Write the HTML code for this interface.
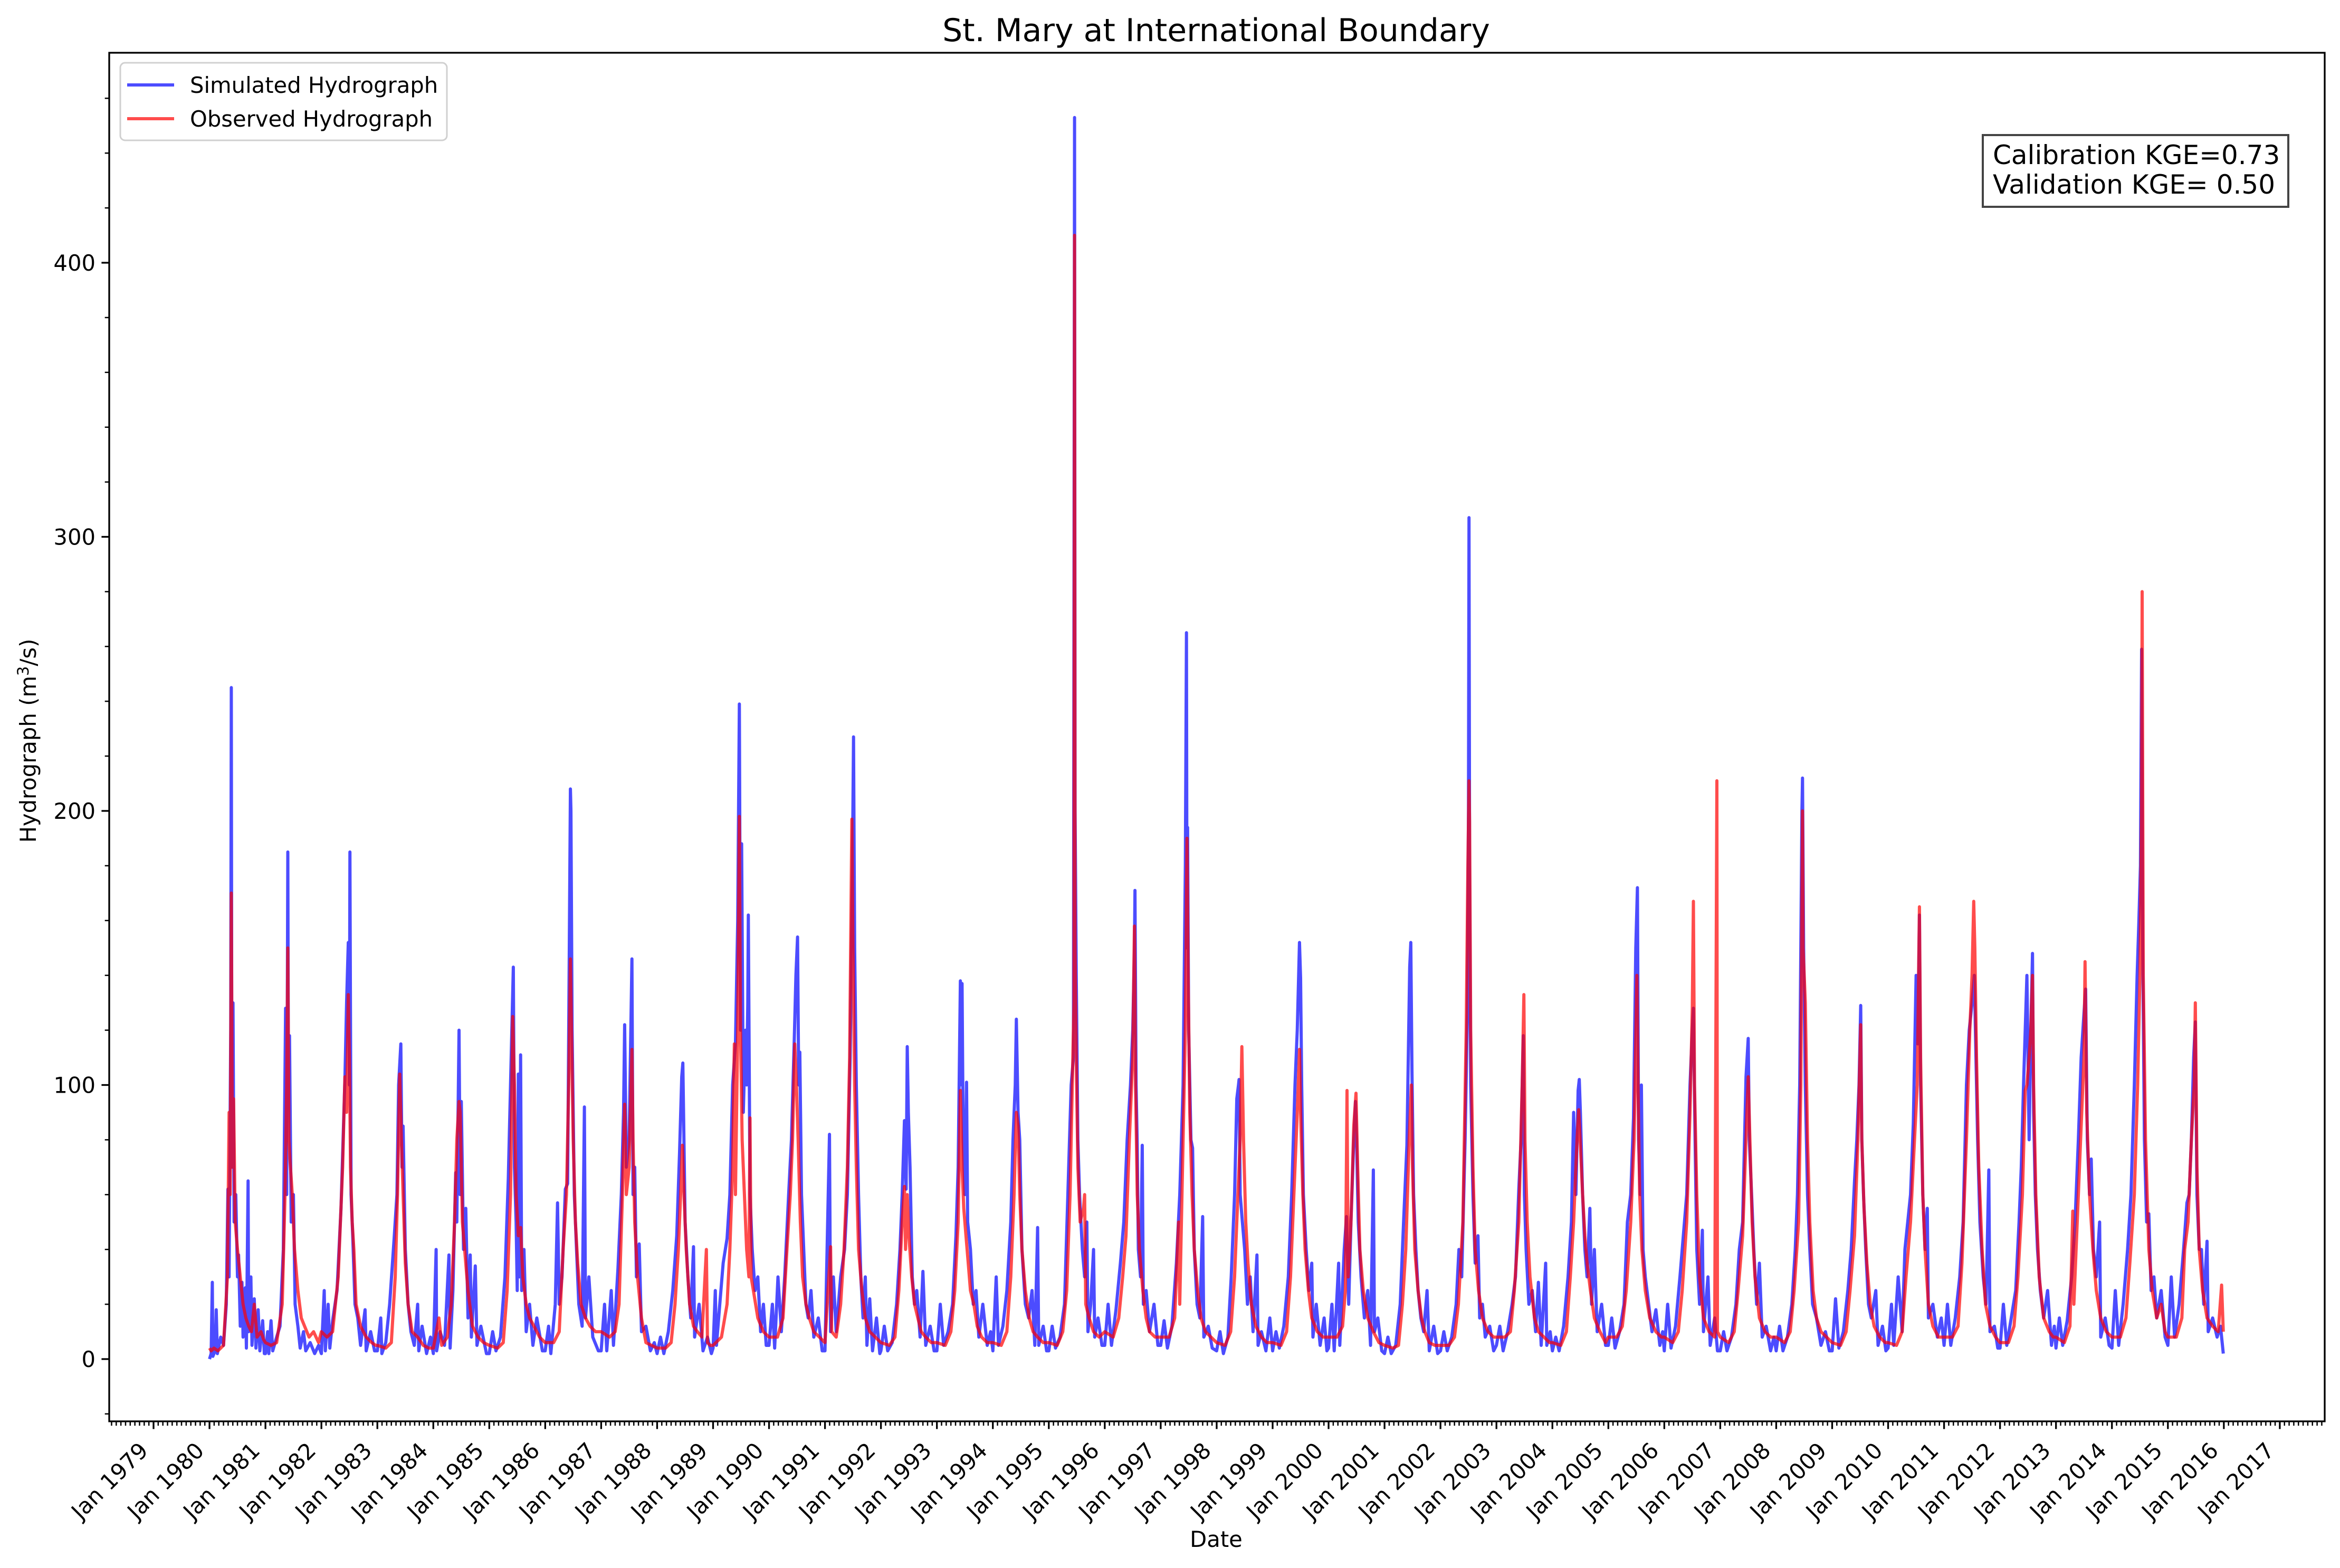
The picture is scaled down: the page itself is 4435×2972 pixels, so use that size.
<!DOCTYPE html>
<html><head><meta charset="utf-8"><style>
html,body{margin:0;padding:0;background:#fff}
svg{display:block}
text{font-family:"DejaVu Sans","Liberation Sans",sans-serif;fill:#000}
</style></head><body>
<svg id="chart" width="4435" height="2972" viewBox="0 0 4435 2972" xmlns="http://www.w3.org/2000/svg">
<rect x="0" y="0" width="4435" height="2972" fill="#fff"/>
<g id="plot"></g>
<g id="axes"></g>
<text x="2305" y="78" font-size="60" text-anchor="middle">St. Mary at International Boundary</text>
<text x="2305" y="2932" font-size="41.7" text-anchor="middle">Date</text>
<text transform="translate(68,1404) rotate(-90)" font-size="41.7" text-anchor="middle">Hydrograph (m<tspan font-size="29" dy="-14">3</tspan><tspan dy="14">/s)</tspan></text>
<g>
<rect x="228" y="119" width="619" height="147" rx="9" fill="#fff" fill-opacity="0.8" stroke="#d0d0d0" stroke-width="3"/>
<line x1="241" y1="161" x2="330" y2="161" stroke="#0000ff" stroke-opacity="0.7" stroke-width="6"/>
<text x="360" y="176" font-size="41.7">Simulated Hydrograph</text>
<line x1="241" y1="225" x2="330" y2="225" stroke="#ff0000" stroke-opacity="0.7" stroke-width="6"/>
<text x="360" y="240" font-size="41.7">Observed Hydrograph</text>
</g>
<g>
<rect x="3758" y="256" width="579" height="136" fill="#fff" stroke="#444" stroke-width="4"/>
<text x="3777" y="311" font-size="50">Calibration KGE=0.73</text>
<text x="3777" y="367" font-size="50">Validation KGE= 0.50</text>
</g>
</svg>
<script>
// ---- data (decimal-year offset : discharge m3/s) ----
const years = [1980,1981,1982,1983,1984,1985,1986,1987,1988,1989,1990,1991,1992,1993,1994,1995,1996,1997,1998,1999,2000,2001,2002,2003,2004,2005,2006,2007,2008,2009,2010,2011,2012,2013,2014,2015];
const simulatedSeries = [
".0:0 .03:2 .05:28 .06:1 .1:3 .12:18 .14:2 .2:8 .25:5 .3:20 .33:62 .35:30 .38:120 .39:245 .4:70 .42:130 .44:50 .47:60 .5:30 .52:38 .55:12 .58:28 .6:8 .64:26 .66:4 .69:65 .7:10 .74:30 .76:5 .8:22 .83:4 .87:18 .9:3 .95:14 .98:2",
".0:2 .04:10 .06:2 .1:14 .13:3 .2:8 .26:12 .32:40 .36:128 .38:60 .4:185 .41:100 .43:118 .46:50 .5:60 .53:20 .58:12 .62:4 .68:10 .72:3 .8:6 .88:2 .95:5",
".0:2 .05:25 .07:3 .12:20 .15:4 .2:14 .28:25 .35:55 .42:102 .45:130 .48:152 .5:100 .51:185 .53:60 .56:45 .6:20 .65:15 .7:5 .78:18 .8:3 .88:10 .95:3",
".0:3 .06:15 .08:2 .15:6 .22:20 .3:44 .35:60 .38:100 .42:115 .44:70 .46:85 .5:40 .55:20 .6:10 .66:5 .72:20 .74:3 .8:12 .88:2 .95:8",
".0:2 .05:40 .06:3 .12:10 .2:5 .28:38 .3:4 .35:25 .4:68 .42:50 .46:120 .48:60 .5:94 .54:40 .58:55 .62:15 .66:38 .68:8 .75:34 .78:5 .85:12 .95:2",
".0:2 .06:10 .12:3 .2:8 .28:30 .34:66 .38:100 .43:143 .45:70 .48:50 .5:25 .52:104 .54:30 .56:111 .58:25 .62:40 .66:10 .72:20 .78:5 .85:15 .95:3",
".0:3 .06:12 .1:2 .18:20 .22:57 .25:20 .3:30 .36:62 .4:64 .43:150 .45:208 .46:200 .48:120 .52:60 .56:40 .6:20 .66:12 .7:92 .72:15 .78:30 .85:8 .95:3",
".0:3 .06:20 .1:3 .18:25 .22:5 .3:33 .36:60 .4:90 .42:122 .45:70 .5:80 .55:146 .57:60 .6:70 .63:30 .68:42 .72:10 .8:12 .88:3 .95:6",
".0:2 .06:8 .12:2 .2:10 .28:25 .35:45 .4:75 .44:103 .46:108 .5:50 .55:30 .6:15 .65:41 .67:8 .75:20 .82:3 .9:8 .97:2",
".0:4 .04:25 .06:5 .12:20 .18:35 .25:44 .3:60 .35:100 .4:115 .44:160 .47:239 .49:120 .51:188 .54:90 .58:120 .6:100 .62:130 .63:162 .66:60 .7:40 .75:25 .8:30 .85:10 .9:20 .95:5",
".0:5 .06:20 .1:4 .16:30 .22:10 .28:30 .35:60 .4:80 .45:116 .48:140 .51:154 .53:100 .55:112 .58:60 .62:40 .66:20 .7:15 .75:25 .8:8 .88:15 .95:3",
".0:3 .08:82 .1:10 .15:30 .2:10 .28:30 .35:40 .4:60 .45:110 .49:180 .51:227 .53:150 .56:100 .6:60 .64:30 .68:15 .72:30 .75:5 .8:22 .85:3 .92:15 .98:2",
".0:3 .06:12 .12:3 .2:6 .28:20 .34:40 .38:60 .42:87 .45:62 .47:114 .49:90 .52:70 .56:30 .6:20 .64:25 .7:8 .75:32 .8:5 .88:12 .95:3",
".0:3 .06:20 .12:5 .2:10 .28:20 .34:45 .38:70 .42:138 .44:100 .45:137 .47:80 .5:60 .53:101 .55:50 .6:40 .65:20 .7:25 .75:8 .82:20 .9:5 .96:10",
".0:3 .06:30 .1:5 .18:12 .25:25 .32:50 .36:80 .4:100 .42:124 .45:90 .48:80 .52:40 .58:20 .64:15 .7:25 .75:5 .8:48 .82:5 .9:12 .96:3",
".0:3 .06:12 .12:4 .2:8 .28:20 .34:60 .4:100 .44:110 .46:453 .47:200 .49:140 .52:80 .55:60 .6:40 .64:30 .68:50 .7:10 .75:20 .8:40 .82:8 .88:15 .95:5",
".0:5 .06:20 .12:5 .2:18 .28:35 .34:50 .4:80 .46:100 .5:120 .53:150 .54:171 .56:100 .58:78 .6:40 .64:30 .67:78 .69:20 .74:25 .8:10 .88:20 .95:5",
".0:5 .06:14 .12:4 .2:12 .28:35 .34:60 .4:100 .44:180 .46:265 .47:150 .48:194 .5:120 .54:80 .57:77 .6:40 .65:20 .7:15 .75:52 .77:8 .85:12 .92:4",
".0:3 .06:10 .12:2 .2:8 .26:30 .32:60 .36:95 .39:100 .4:102 .42:60 .46:50 .5:40 .55:20 .6:30 .65:10 .72:38 .74:5 .8:10 .88:3 .95:15",
".0:3 .06:10 .12:4 .2:12 .28:30 .34:60 .4:100 .44:120 .48:152 .5:139 .52:100 .55:60 .6:40 .65:25 .7:35 .72:8 .78:20 .85:5 .92:15 .97:3",
".0:4 .06:20 .1:3 .18:35 .2:5 .28:40 .32:52 .36:20 .4:50 .45:80 .48:94 .5:80 .53:50 .58:30 .64:15 .7:25 .75:5 .8:69 .82:10 .88:15 .95:3",
".0:2 .06:8 .12:2 .2:5 .28:20 .34:50 .4:78 .45:143 .47:152 .49:105 .52:60 .56:40 .6:25 .65:15 .7:10 .76:25 .8:3 .88:12 .95:2",
".0:3 .06:10 .12:3 .2:8 .28:20 .33:40 .38:30 .44:80 .48:126 .5:200 .51:307 .52:180 .54:100 .58:60 .62:35 .67:45 .7:15 .75:20 .8:8 .88:12 .95:3",
".0:5 .06:12 .12:3 .2:10 .28:20 .34:30 .4:62 .44:80 .48:118 .5:60 .53:40 .58:20 .64:25 .7:10 .75:28 .8:5 .88:35 .9:5 .96:10",
".0:3 .06:8 .12:3 .2:12 .28:30 .34:50 .38:90 .42:60 .46:98 .48:102 .5:90 .54:60 .58:40 .62:30 .67:55 .7:20 .75:40 .8:10 .88:20 .95:5",
".0:5 .06:15 .12:4 .2:10 .28:20 .34:50 .4:60 .45:88 .49:150 .52:172 .54:80 .57:60 .59:100 .62:40 .66:30 .72:20 .78:10 .85:18 .92:5 .97:10",
".0:3 .06:20 .12:4 .2:12 .28:30 .34:45 .4:60 .46:100 .5:120 .52:128 .55:80 .58:40 .63:20 .68:47 .7:10 .78:30 .82:5 .9:15 .95:3",
".0:3 .06:10 .12:3 .2:8 .28:20 .34:40 .4:50 .46:103 .5:117 .52:80 .56:60 .6:40 .65:20 .7:35 .75:8 .82:12 .9:3 .96:8",
".0:3 .06:12 .12:3 .2:8 .28:20 .34:40 .38:60 .42:100 .46:200 .47:212 .49:150 .52:100 .56:60 .6:40 .65:20 .72:15 .8:5 .88:10 .95:3",
".0:3 .06:22 .12:4 .2:10 .28:25 .34:40 .4:65 .44:80 .48:100 .51:129 .53:80 .56:60 .6:40 .65:20 .7:15 .78:25 .82:5 .9:12 .96:3",
".0:4 .06:20 .1:5 .18:30 .25:10 .3:40 .35:50 .4:60 .45:86 .5:140 .53:115 .56:162 .58:100 .62:60 .66:40 .7:55 .72:15 .8:20 .88:8 .95:15",
".0:5 .06:20 .12:5 .2:15 .28:30 .34:50 .4:100 .45:120 .5:130 .54:140 .56:120 .6:80 .64:50 .7:30 .75:20 .8:69 .82:10 .9:12 .96:4",
".0:4 .06:20 .12:5 .2:15 .28:25 .34:50 .38:70 .42:100 .45:120 .48:140 .52:80 .55:120 .58:148 .6:90 .63:60 .67:40 .72:25 .78:15 .85:25 .92:5 .97:12",
".0:4 .06:15 .12:5 .2:14 .28:30 .34:50 .4:80 .45:110 .5:126 .53:135 .56:80 .6:60 .63:73 .67:40 .72:30 .78:50 .8:8 .88:15 .95:5",
".0:4 .06:25 .12:5 .2:20 .28:40 .34:60 .4:100 .45:140 .48:159 .51:180 .53:259 .55:150 .58:80 .62:50 .66:53 .7:25 .75:30 .8:15 .88:25 .95:8",
".0:5 .06:30 .12:8 .2:20 .28:40 .34:57 .38:60 .42:80 .46:110 .49:123 .52:60 .56:40 .6:40 .64:20 .7:43 .72:10 .8:15 .88:8 .94:12 .99:2"
];
const observedSeries = [
".0:4 .03:3 .08:4 .15:3 .25:5 .32:30 .35:90 .37:60 .39:170 .41:70 .43:95 .46:50 .5:40 .55:30 .6:20 .65:15 .7:12 .75:10 .8:20 .85:8 .92:10 .97:7",
".0:6 .1:5 .2:6 .3:20 .35:60 .38:100 .4:150 .42:80 .44:72 .48:60 .52:40 .58:25 .64:15 .7:12 .78:8 .86:10 .95:6",
".0:10 .1:8 .2:10 .3:30 .38:70 .42:103 .45:90 .48:133 .5:110 .52:70 .55:50 .58:40 .62:20 .7:12 .8:8 .9:6 .97:5",
".0:5 .15:4 .25:6 .32:30 .36:60 .4:104 .43:80 .46:60 .5:35 .55:20 .62:10 .72:8 .82:5 .92:4",
".0:4 .1:15 .15:5 .25:8 .32:20 .38:50 .42:80 .46:94 .48:90 .52:50 .56:40 .62:25 .7:12 .8:8 .9:6",
".0:5 .15:4 .25:6 .32:25 .38:60 .42:125 .45:100 .48:60 .52:45 .56:48 .6:30 .66:20 .72:15 .8:12 .9:8",
".0:6 .15:6 .25:10 .32:40 .38:60 .42:100 .45:146 .47:120 .5:80 .54:50 .58:35 .64:20 .72:15 .8:12 .9:10",
".0:10 .15:8 .25:10 .32:20 .38:60 .42:93 .45:60 .5:70 .55:113 .57:80 .6:50 .65:30 .72:15 .8:6 .9:5",
".0:4 .15:4 .25:6 .32:20 .38:40 .42:60 .45:78 .48:60 .52:40 .58:20 .65:12 .72:10 .8:8 .88:40 .9:6 .95:5",
".0:5 .15:8 .25:20 .3:40 .35:70 .38:115 .4:60 .44:120 .47:198 .49:120 .52:80 .56:60 .6:40 .64:30 .66:88 .68:30 .72:25 .8:15 .9:10",
".0:8 .15:8 .25:15 .32:40 .38:60 .42:80 .46:115 .49:100 .52:80 .56:50 .6:30 .66:20 .72:15 .8:10 .9:8",
".0:6 .1:41 .12:10 .2:8 .28:20 .34:40 .4:70 .44:110 .48:197 .5:150 .53:100 .56:70 .6:40 .66:25 .72:15 .8:10 .9:8",
".0:6 .15:5 .25:8 .32:25 .38:50 .42:63 .44:40 .47:60 .5:45 .55:30 .6:20 .66:15 .72:10 .8:8 .9:6",
".0:6 .15:5 .25:10 .32:25 .38:50 .42:98 .45:70 .48:55 .52:45 .56:35 .6:25 .66:20 .72:12 .8:8 .9:6",
".0:6 .15:5 .25:10 .32:30 .38:60 .42:90 .45:85 .48:60 .52:40 .58:25 .65:15 .72:10 .8:8 .9:6",
".0:6 .15:5 .25:10 .32:25 .38:60 .42:100 .45:130 .46:410 .47:150 .49:110 .52:70 .56:50 .62:55 .64:60 .66:20 .72:15 .8:10 .9:8",
".0:10 .15:8 .25:15 .32:30 .38:45 .44:80 .5:110 .53:158 .55:100 .58:60 .62:40 .68:25 .74:15 .8:10 .9:8",
".0:8 .15:8 .25:15 .3:40 .32:50 .34:20 .4:80 .44:120 .47:190 .49:140 .52:90 .56:60 .6:40 .66:25 .72:15 .8:10 .9:8",
".0:6 .15:5 .25:10 .32:30 .38:60 .42:80 .45:114 .48:80 .52:50 .56:35 .62:20 .7:12 .8:8 .9:6",
".0:6 .15:5 .25:10 .32:30 .38:60 .44:90 .48:113 .5:90 .54:60 .58:40 .64:25 .7:15 .8:10 .9:8",
".0:8 .15:8 .25:12 .3:25 .33:98 .35:30 .4:50 .45:85 .49:97 .52:70 .56:40 .62:25 .7:15 .8:10 .9:6",
".0:5 .15:4 .25:5 .32:20 .38:40 .44:80 .48:100 .5:70 .54:40 .6:25 .66:15 .72:10 .8:6 .9:5",
".0:5 .15:5 .25:8 .32:20 .4:50 .46:120 .49:180 .51:211 .52:196 .54:120 .58:70 .62:40 .68:25 .75:15 .85:10 .95:8",
".0:8 .15:8 .25:10 .32:25 .4:50 .46:100 .49:133 .51:80 .55:50 .6:30 .68:15 .75:10 .85:8 .95:6",
".0:6 .15:5 .25:10 .32:30 .38:50 .44:80 .47:91 .5:78 .54:60 .58:45 .62:35 .68:25 .75:15 .85:10 .95:6",
".0:8 .15:8 .25:12 .32:25 .4:50 .46:80 .51:140 .53:100 .56:60 .6:40 .66:25 .74:15 .85:10 .95:8",
".0:8 .15:6 .25:10 .32:25 .4:50 .46:90 .5:128 .52:167 .54:100 .58:60 .63:30 .7:15 .8:10 .9:8 .94:211 .95:10",
".0:8 .15:6 .25:10 .32:25 .4:45 .46:80 .5:103 .53:80 .57:50 .62:30 .7:15 .8:10 .9:8",
".0:8 .15:6 .25:10 .32:25 .4:50 .44:100 .47:200 .48:150 .52:130 .56:80 .6:50 .66:25 .72:15 .8:10 .9:8",
".0:6 .15:5 .25:10 .32:25 .4:45 .46:80 .51:122 .53:80 .57:55 .62:35 .68:20 .75:12 .85:8 .95:6",
".0:6 .15:5 .25:10 .32:30 .4:50 .46:75 .52:100 .56:165 .58:110 .62:60 .66:40 .72:20 .8:12 .9:8",
".0:8 .15:8 .25:12 .32:35 .4:80 .46:120 .5:140 .53:167 .55:150 .58:110 .62:70 .68:40 .74:20 .82:12 .92:8",
".0:6 .15:6 .25:12 .32:30 .4:60 .45:98 .48:100 .52:110 .55:120 .58:140 .6:100 .64:60 .7:30 .78:15 .88:10 .95:8",
".0:8 .15:6 .25:12 .3:54 .32:20 .4:60 .46:90 .5:110 .52:145 .55:90 .6:60 .66:40 .72:25 .8:15 .9:10",
".0:8 .15:8 .25:15 .32:35 .4:60 .46:100 .5:140 .53:200 .54:280 .56:140 .6:80 .66:40 .72:25 .8:15 .88:20 .95:10",
".0:8 .15:8 .25:15 .3:40 .36:50 .42:80 .47:100 .49:130 .52:70 .56:40 .62:25 .7:15 .8:12 .9:10 .96:27 .99:10"
];
const yTickValues = [0,100,200,300,400];
const xTickYears = [1979,1980,1981,1982,1983,1984,1985,1986,1987,1988,1989,1990,1991,1992,1993,1994,1995,1996,1997,1998,1999,2000,2001,2002,2003,2004,2005,2006,2007,2008,2009,2010,2011,2012,2013,2014,2015,2016,2017];

// ---- axes geometry ----
const AX = {left:207, right:4406, top:100, bottom:2694};
const X0 = 291, PER_YEAR = 106.05;
const xScale = t => X0 + (t - 1979) * PER_YEAR;
const Y0 = 2576, PER_UNIT = 5.195;
const yScale = v => Y0 - v * PER_UNIT;
const NS = "http://www.w3.org/2000/svg";
const plot = document.getElementById('plot');
const axes = document.getElementById('axes');
function mk(tag, attrs){const e=document.createElementNS(NS,tag);for(const k in attrs)e.setAttribute(k,attrs[k]);return e;}

// clip
const defs = mk('defs',{});
const cp = mk('clipPath',{id:'clip'});
cp.appendChild(mk('rect',{x:AX.left,y:AX.top,width:AX.right-AX.left,height:AX.bottom-AX.top}));
defs.appendChild(cp);
document.getElementById('chart').insertBefore(defs, plot);
plot.setAttribute('clip-path','url(#clip)');

function seriesPath(series){
  let d='';
  series.forEach((s,i)=>{
    s.trim().split(/\s+/).forEach(p=>{
      const [o,v]=p.split(':').map(Number);
      const x=xScale(years[i]+o), y=yScale(v);
      d += (d?'L':'M') + x.toFixed(1) + ',' + y.toFixed(1);
    });
  });
  return d;
}
const simPath = mk('path',{d:seriesPath(simulatedSeries),fill:'none',stroke:'#0000ff','stroke-opacity':0.7,'stroke-width':6,'stroke-linejoin':'round'});


plot.appendChild(simPath);
const obsPath = mk('path',{d:seriesPath(observedSeries),fill:'none',stroke:'#ff0000','stroke-opacity':0.7,'stroke-width':6,'stroke-linejoin':'round'});


plot.appendChild(obsPath);

// spines
const frame = mk('rect',{x:AX.left,y:AX.top,width:AX.right-AX.left,height:AX.bottom-AX.top,fill:'none',stroke:'#000','stroke-width':3.3});


axes.appendChild(frame);

// y ticks
for(let v=-20; v<=460; v+=20){
  const y=yScale(v);
  const major = v%100===0;
  const t = mk('line',{x1:AX.left,x2:AX.left-(major?14.6:8.3),y1:y,y2:y,stroke:'#000','stroke-width':major?3.3:2.5});
  
  
  axes.appendChild(t);
}
yTickValues.forEach(v=>{
  const tx = mk('text',{x:AX.left-26,y:yScale(v)+15,'font-size':41.7,'text-anchor':'end'});
  tx.textContent = String(v);
  
  
  axes.appendChild(tx);
});

// x ticks
for(let m=-10; m<=12*39; m++){
  const t = 1979 + m/12;
  const x = xScale(t);
  if(x < AX.left-0.5 || x > AX.right+0.5) continue;
  const major = m%12===0;
  const tk = mk('line',{x1:x,x2:x,y1:AX.bottom,y2:AX.bottom+(major?14.6:8.3),stroke:'#000','stroke-width':major?3.3:2.5});
  
  
  axes.appendChild(tk);
}
xTickYears.forEach(yr=>{
  const x = xScale(yr);
  const tx = mk('text',{transform:`translate(${(x-8).toFixed(1)},2752) rotate(-45)`,'font-size':41.7,'text-anchor':'end'});
  tx.textContent = 'Jan ' + yr;
  
  
  axes.appendChild(tx);
});
</script>
</body></html>
